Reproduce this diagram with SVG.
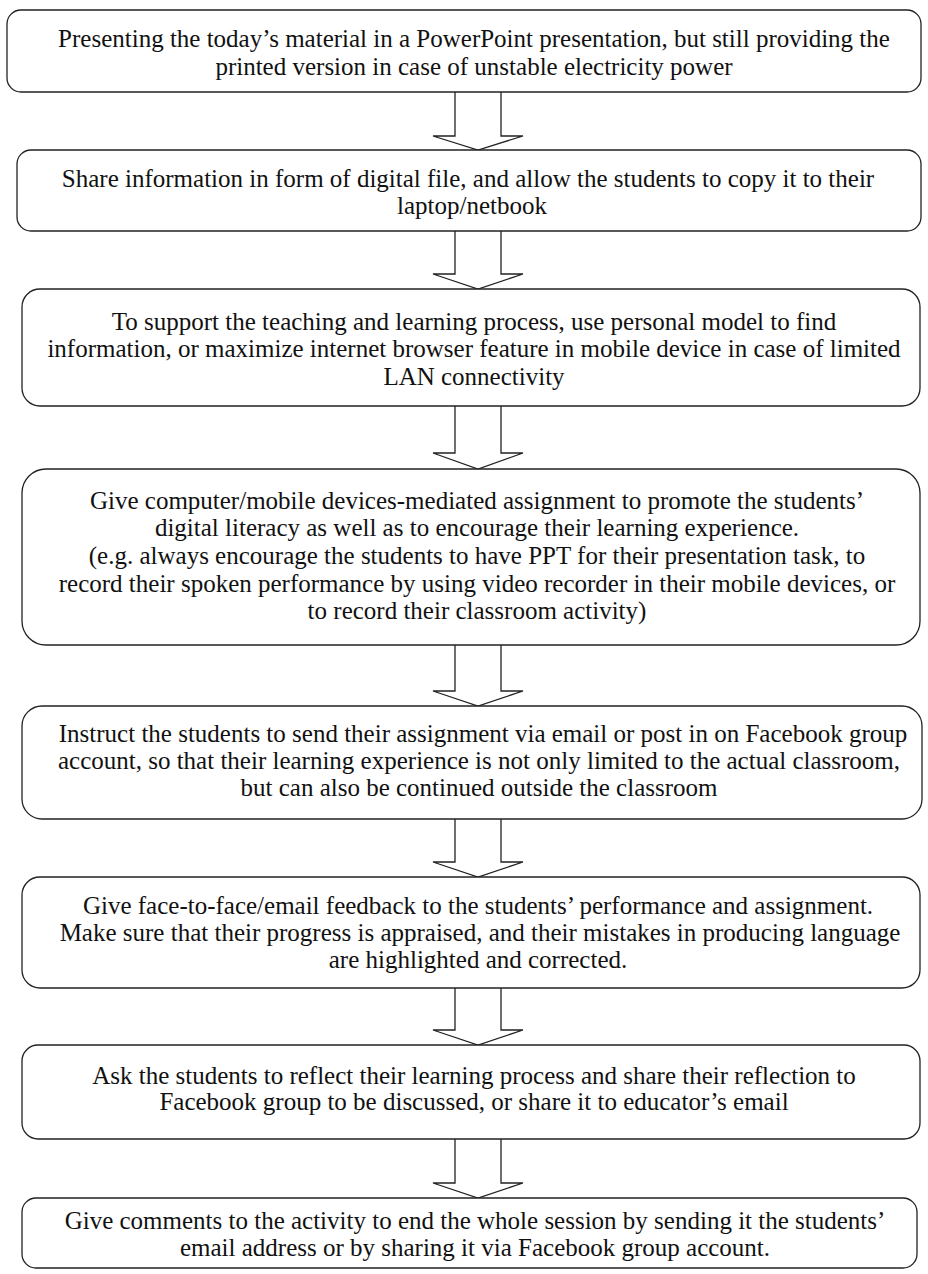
<svg xmlns="http://www.w3.org/2000/svg" width="928" height="1274" viewBox="0 0 928 1274">
<style>
.box{fill:#fff;stroke:#222;stroke-width:1.3}
.arr{fill:#fff;stroke:#222;stroke-width:1.3;stroke-linejoin:miter}
text{font-family:"Liberation Serif","Times New Roman",serif;font-size:25px;fill:#111;text-anchor:middle}
</style>
<rect width="928" height="1274" fill="#fff"/>
<g id="connectors">
<path class="arr" d="M455,92 V136 H433 L478,150 L523,136 H501 V92"/>
<path class="arr" d="M455,231 V274 H433 L478,289 L523,274 H501 V231"/>
<path class="arr" d="M455,406 V453 H433 L478,469 L523,453 H501 V406"/>
<path class="arr" d="M455,645 V691 H433 L478,706 L523,691 H501 V645"/>
<path class="arr" d="M455,819 V862 H433 L478,877 L523,862 H501 V819"/>
<path class="arr" d="M455,988 V1030 H433 L478,1045 L523,1030 H501 V988"/>
<path class="arr" d="M455,1139 V1183 H433 L478,1198 L523,1183 H501 V1139"/>
</g>
<g id="n1">
<rect class="box" x="7" y="10" width="914" height="82" rx="14"/>
<text x="474" y="47">Presenting the today’s material in a PowerPoint presentation, but still providing the</text>
<text x="474" y="75">printed version in case of unstable electricity power</text>
</g>
<g id="n2">
<rect class="box" x="17" y="150" width="904" height="81" rx="14"/>
<text x="468" y="187">Share information in form of digital file, and allow the students to copy it to their</text>
<text x="472" y="214">laptop/netbook</text>
</g>
<g id="n3">
<rect class="box" x="22" y="289" width="898" height="117" rx="18"/>
<text x="474" y="330">To support the teaching and learning process, use personal model to find</text>
<text x="474" y="357">information, or maximize internet browser feature in mobile device in case of limited</text>
<text x="474" y="385">LAN connectivity</text>
</g>
<g id="n4">
<rect class="box" x="22" y="469" width="898" height="176" rx="24"/>
<text x="477" y="509">Give computer/mobile devices-mediated assignment to promote the students’</text>
<text x="477" y="536">digital literacy as well as to encourage their learning experience.</text>
<text x="477" y="564">(e.g. always encourage the students to have PPT for their presentation task, to</text>
<text x="477" y="592">record their spoken performance by using video recorder in their mobile devices, or</text>
<text x="477" y="619">to record their classroom activity)</text>
</g>
<g id="n5">
<rect class="box" x="22" y="706" width="900" height="113" rx="20"/>
<text x="483" y="742">Instruct the students to send their assignment via email or post in on Facebook group</text>
<text x="479" y="769">account, so that their learning experience is not only limited to the actual classroom,</text>
<text x="479" y="796">but can also be continued outside the classroom</text>
</g>
<g id="n6">
<rect class="box" x="22" y="877" width="898" height="111" rx="18"/>
<text x="478" y="914">Give face-to-face/email feedback to the students’ performance and assignment.</text>
<text x="480" y="941">Make sure that their progress is appraised, and their mistakes in producing language</text>
<text x="478" y="968">are highlighted and corrected.</text>
</g>
<g id="n7">
<rect class="box" x="22" y="1045" width="898" height="94" rx="16"/>
<text x="474" y="1084">Ask the students to reflect their learning process and share their reflection to</text>
<text x="474" y="1110">Facebook group to be discussed, or share it to educator’s email</text>
</g>
<g id="n8">
<rect class="box" x="22" y="1198" width="895" height="70" rx="14"/>
<text x="475" y="1229">Give comments to the activity to end the whole session by sending it the students’</text>
<text x="475" y="1256">email address or by sharing it via Facebook group account.</text>
</g>
</svg>
